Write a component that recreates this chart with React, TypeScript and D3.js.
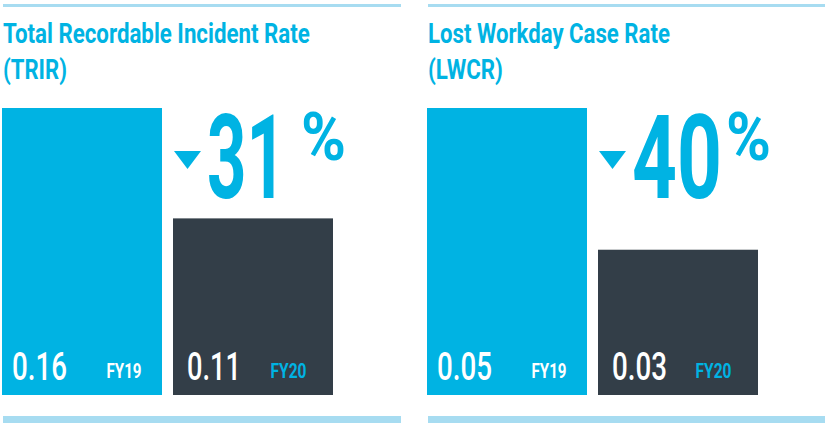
import React, { useLayoutEffect, useRef } from "react";
import * as d3 from "d3";

const titles = ["Total Recordable Incident Rate", "Lost Workday Case Rate"];
const abbreviations = ["(TRIR)", "(LWCR)"];
const years = ["FY19", "FY20"];
const fy19Values = [0.16, 0.05];
const fy20Values = [0.11, 0.03];
const changes = [-31, -40];
const scaleFloors = [0.03, 0.0095];

const BLUE = "#00b3e3";
const DARK = "#333e48";
const LIGHT = "#a7dcf1";
const FONT = "Roboto, 'Noto Sans', sans-serif";

const W = 825;
const H = 423;
const PANEL_W = 425;

// target text widths (condensed look)
const textWidths: Record<string, number> = {
  "Total Recordable Incident Rate": 307,
  "Lost Workday Case Rate": 242,
  "(TRIR)": 64,
  "(LWCR)": 75,
  "31": 79,
  "40": 90,
  "%": 45,
  "0.16": 55,
  "0.11": 54,
  "0.05": 55,
  "0.03": 55,
  FY19: 35,
  FY20: 36,
};

function CText({ x, y, text, size, weight, fill }: { x: number; y: number; text: string; size: number; weight: number; fill: string }) {
  const ref = useRef<SVGTextElement>(null);
  useLayoutEffect(() => {
    const el = ref.current;
    if (!el) return;
    el.setAttribute("transform", `translate(${x},${y})`);
    const len = el.getComputedTextLength();
    const target = textWidths[text];
    const sx = target && len ? target / len : 1;
    el.setAttribute("transform", `translate(${x},${y}) scale(${sx},1)`);
  }, [x, y, text, size, weight]);
  return (
    <text ref={ref} transform={`translate(${x},${y})`} fontFamily={FONT} fontWeight={weight} fontSize={size} fill={fill}>
      {text}
    </text>
  );
}

function Panel({ i }: { i: number }) {
  const values = [fy19Values[i], fy20Values[i]];
  const x = d3.scaleBand<string>().domain(years).range([2, 333]).paddingInner(11 / 171).paddingOuter(0);
  const y = d3.scaleLinear().domain([scaleFloors[i], d3.max(values) as number]).range([395, 108]);
  const fmt = d3.format(".2f");
  const bw = x.bandwidth();
  const x2 = x(years[1]) as number;
  const tri = d3.line()([
    [x2 + 1, 151],
    [x2 + 28, 151],
    [x2 + 14.5, 169],
  ]);
  const pct = String(Math.abs(changes[i]));
  return (
    <g transform={`translate(${i * PANEL_W},0)`}>
      <rect x={3} y={4} width={398} height={3} fill={LIGHT} />
      <rect x={3} y={416} width={398} height={7} fill={LIGHT} />
      <CText x={3} y={43} text={titles[i]} size={28} weight={700} fill={BLUE} />
      <CText x={3} y={79} text={abbreviations[i]} size={28} weight={700} fill={BLUE} />
      {values.map((v, j) => {
        const bx = x(years[j]) as number;
        const label = fmt(v);
        return (
          <g key={j}>
            <rect x={bx} y={y(v)} width={bw} height={395 - y(v)} fill={j === 0 ? BLUE : DARK} />
            <CText x={bx + (j === 0 ? 10 : 14)} y={380} text={label} size={38} weight={500} fill="#ffffff" />
            <CText x={bx + (j === 0 ? 104.5 : 97.5)} y={378} text={years[j]} size={21} weight={700}
              fill={j === 0 ? "#ffffff" : BLUE} />
          </g>
        );
      })}
      <path d={tri as string} fill={BLUE} />
      <CText x={207} y={198} text={pct} size={117} weight={700} fill={BLUE} />
      <CText x={301} y={160} text="%" size={66} weight={700} fill={BLUE} />
    </g>
  );
}

export default function App() {
  return (
    <div style={{ position: "absolute", left: 0, top: 0 }}>
      <svg width={W} height={H} style={{ display: "block" }}>
        <rect width={W} height={H} fill="#ffffff" />
        {titles.map((_, i) => (
          <Panel key={i} i={i} />
        ))}
      </svg>
    </div>
  );
}
